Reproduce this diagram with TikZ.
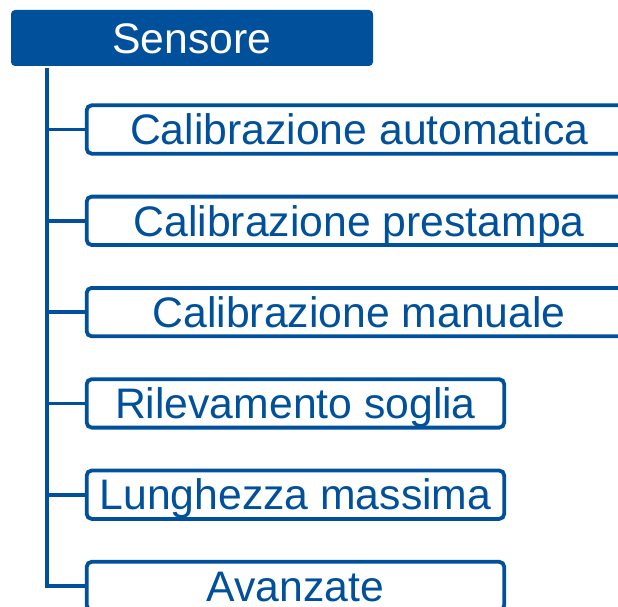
\documentclass[tikz,border=0pt]{standalone}
\usepackage{fontspec}
\setmainfont{Liberation Sans}
\definecolor{sensblue}{RGB}{0,80,155}

\begin{document}
\begin{tikzpicture}[x=1pt, y=-1pt, line width=3.8pt,
  every node/.style={font=\fontsize{42.7}{50}\selectfont, text height=30.4pt, text depth=0pt, inner sep=0pt},
  head/.style={fill=sensblue, text=white, rounded corners=4pt, minimum width=362pt, minimum height=56pt},
  item/.style={draw=sensblue, text=sensblue, rounded corners=5pt, minimum height=48.4pt, anchor=west},
  wide/.style={item, minimum width=545pt},
  short/.style={item, minimum width=417.5pt}]
  \useasboundingbox (0,0) rectangle (618,607);
  \node[head] (sensore) at (192,38) {Sensore};
  \node[wide] (auto) at (84.8,129.5) {Calibrazione automatica};
  \node[wide] (prest) at (84.8,220.8) {Calibrazione prestampa};
  \node[wide] (manu) at (84.8,312.1) {Calibrazione manuale};
  \node[short] (soglia) at (84.8,403.4) {Rilevamento soglia};
  \node[short] (lungh) at (84.8,494.7) {Lunghezza massima};
  \node[short] (avanz) at (84.8,586) {Avanzate};
  % tree lines
  \coordinate (trunk) at ([xshift=37.5pt]sensore.south west);
  \draw[sensblue] (trunk) |- (avanz.west);
  \foreach \n in {auto,prest,manu,soglia,lungh}
    \draw[sensblue] (trunk |- \n.west) -- (\n.west);
\end{tikzpicture}
\end{document}
